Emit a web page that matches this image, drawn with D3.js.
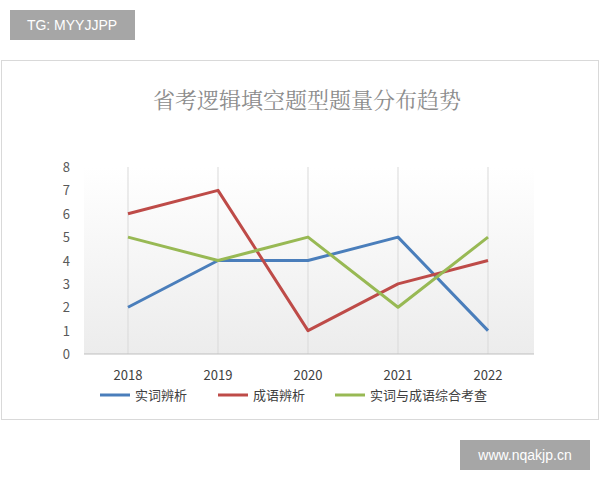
<!DOCTYPE html><html><head><meta charset="utf-8"><script src="https://cdn.jsdelivr.net/npm/d3@7"></script>
<style>body{margin:0;background:#fff}</style></head><body><svg id="c" width="600" height="480"></svg>
<script>
const years=["2018","2019","2020","2021","2022"];
const shici=[2,4,4,5,1];
const chengyu=[6,7,1,3,4];
const zonghe=[5,4,5,2,5];
const yTicks=[0,1,2,3,4,5,6,7,8];
const seriesNames=["实词辨析","成语辨析","实词与成语综合考查"];
const colors=["#4a7ebb","#be4b48","#98b954"];
const svg=d3.select("#c");
const font="'Noto Sans CJK SC','Noto Sans',sans-serif";
svg.append("rect").attr("x",1.5).attr("y",60.5).attr("width",597).attr("height",359).attr("fill","#fff").attr("stroke","#d9d9d9");
const defs=svg.append("defs");
const g=defs.append("linearGradient").attr("id","bg").attr("x1",0).attr("y1",0).attr("x2",0).attr("y2",1);
g.append("stop").attr("offset","0").attr("stop-color","#fff");
g.append("stop").attr("offset","1").attr("stop-color","#ececec");
const x=d3.scalePoint().domain(years).range([128,488]);
const y=d3.scaleLinear().domain([0,8]).range([354,167]);
svg.append("rect").attr("x",84).attr("y",167).attr("width",450).attr("height",187).attr("fill","url(#bg)");
years.forEach(yr=>svg.append("line").attr("x1",x(yr)).attr("x2",x(yr)).attr("y1",y(8)).attr("y2",y(0)).attr("stroke","#d9d9d9"));
svg.append("line").attr("x1",84).attr("x2",534).attr("y1",y(0)).attr("y2",y(0)).attr("stroke","#bfbfbf");
yTicks.forEach(t=>svg.append("text").attr("x",70).attr("y",y(t)+5).attr("text-anchor","end").attr("font-family",font).attr("font-size",13).attr("fill","#595959").text(t));
years.forEach(yr=>svg.append("text").attr("x",x(yr)).attr("y",380).attr("text-anchor","middle").attr("font-family",font).attr("font-size",13).attr("fill","#404040").text(yr));
svg.append("text").attr("x",307).attr("y",108).attr("text-anchor","middle").attr("font-family","'Noto Serif CJK SC','Noto Sans CJK SC',serif").attr("font-size",22).attr("fill","#8c8c8c").text("省考逻辑填空题型题量分布趋势");
const line=d3.line().x((d,i)=>x(years[i])).y(d=>y(d));
[shici,chengyu,zonghe].forEach((s,i)=>svg.append("path").attr("d",line(s)).attr("fill","none").attr("stroke",colors[i]).attr("stroke-width",3).attr("stroke-linejoin","round"));
const lx=[100,218,335];
seriesNames.forEach((n,i)=>{
 svg.append("line").attr("x1",lx[i]).attr("x2",lx[i]+30).attr("y1",395).attr("y2",395).attr("stroke",colors[i]).attr("stroke-width",3);
 svg.append("text").attr("x",lx[i]+35).attr("y",400).attr("font-family",font).attr("font-size",13).attr("fill","#404040").text(n);
});
svg.append("rect").attr("x",10).attr("y",10).attr("width",125).attr("height",30).attr("fill","#a6a6a6");
svg.append("text").attr("x",72).attr("y",30).attr("text-anchor","middle").attr("font-family","Arial,'Liberation Sans'").attr("font-size",14).attr("fill","#fff").text("TG: MYYJJPP");
svg.append("rect").attr("x",460).attr("y",440).attr("width",130).attr("height",30).attr("fill","#a6a6a6");
svg.append("text").attr("x",525).attr("y",460).attr("text-anchor","middle").attr("font-family","Arial,'Liberation Sans'").attr("font-size",14).attr("fill","#fff").text("www.nqakjp.cn");
</script></body></html>
